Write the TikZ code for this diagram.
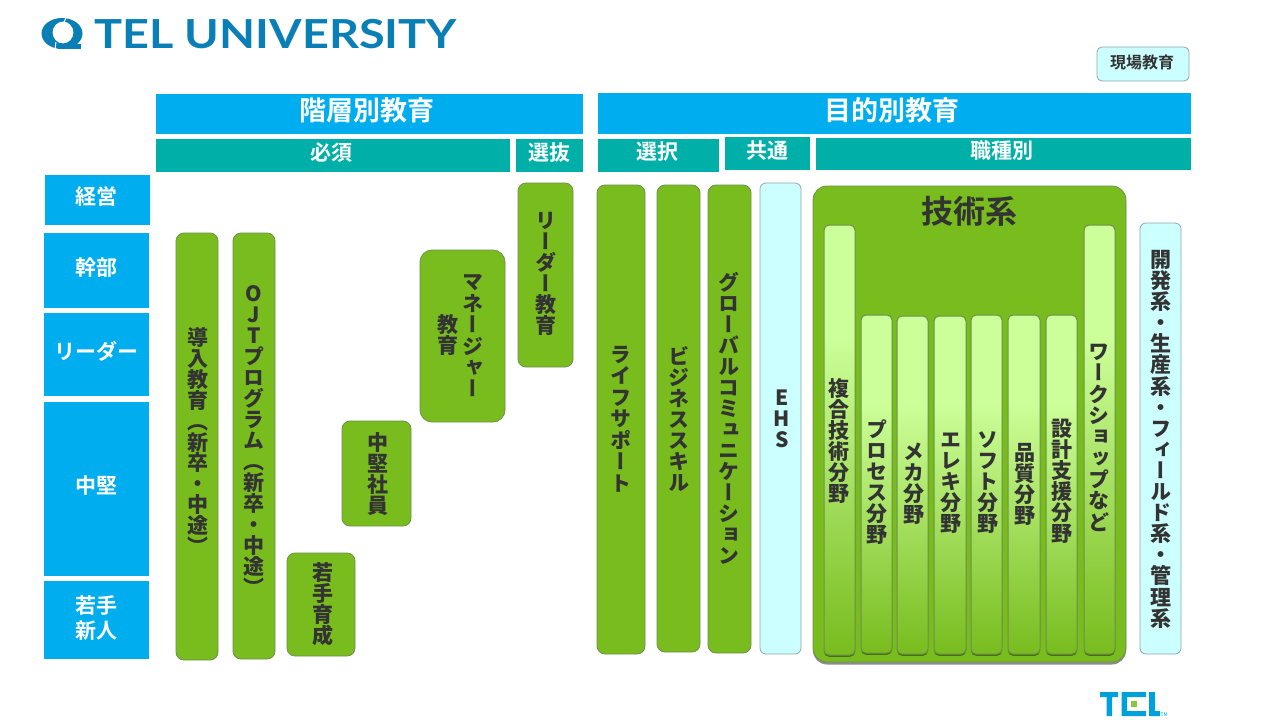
\documentclass[tikz,border=0pt]{standalone}
\usepackage{fontspec}
\setmainfont{Noto Sans CJK JP}[BoldFont={Noto Sans CJK JP Bold}]
\newfontfamily\vjp{Noto Sans CJK JP Bold}[RawFeature={+vert}]
\newfontfamily\logofont{Lato}
\usetikzlibrary{shadows}
\definecolor{cyanhead}{HTML}{00AEEF}
\definecolor{tealhead}{HTML}{00B0A8}
\definecolor{barg}{HTML}{78BC1E}
\definecolor{barline}{HTML}{6E8F50}
\definecolor{lightc}{HTML}{CCFFFF}
\definecolor{lightcline}{HTML}{8FA6AE}
\definecolor{lightg}{HTML}{CCFF99}
\definecolor{ink}{HTML}{333333}
\definecolor{logob}{HTML}{0A7FB5}
\definecolor{telb}{HTML}{00A0DC}
\definecolor{telg}{HTML}{8CC63F}
\pgfdeclareverticalshading{barshade}{100bp}{color(0bp)=(barg); color(25bp)=(barg); color(62bp)=(lightg); color(100bp)=(lightg)}
\makeatletter
\newcommand\vcol[2]{\vbox{\baselineskip=#1pt\lineskiplimit=-100pt\lineskip=0pt\vjp\bfseries\@tfor\vc:=#2\do{\hbox to 1.1em{\hss\vc\hss}}}}
\makeatother
\tikzset{
 head/.style={text=white,font=\bfseries\fontsize{27}{27}\selectfont,inner sep=0},
 sub/.style={text=white,font=\bfseries\fontsize{21}{21}\selectfont,inner sep=0},
 side/.style={text=white,font=\bfseries\fontsize{21}{25}\selectfont,inner sep=0,align=center},
 bar/.style={fill=barg,draw=barline,line width=.8pt,rounded corners=8pt},
 cbar/.style={fill=lightc,draw=lightcline,line width=.8pt,rounded corners=6pt},
 ibar/.style={shading=barshade,draw=barline,line width=1pt,rounded corners=5pt},
 bartext/.style={text=ink,inner sep=0,font=\fontsize{21}{21}\selectfont},
}
\begin{document}
\begin{tikzpicture}[x=1pt,y=-1pt]
\useasboundingbox (0,0) rectangle (1280,720);
% logo
\fill[logob,even odd rule] (62,33.5) ellipse (20.5 and 15.5) (63,32.5) ellipse (10.5 and 11);
\fill[logob] (58,44) rectangle (81,48.5);
\draw[white,line width=1pt] (66,18) -- (60,30);
\draw[white,line width=1pt] (56,42) -- (55,49);
\node[anchor=west,inner sep=0,text=logob,font=\logofont\bfseries\fontsize{40}{40}\selectfont,xscale=1.17,transform shape] (unilogo) at (94,34.5) {TEL UNIVERSITY};
% top tag
\path[cbar,rounded corners=5pt] (1097,47) rectangle (1189,81);
\node[text=ink,font=\bfseries\fontsize{16}{16}\selectfont] (genba) at (1142,62.5) {現場教育};
% headers
\path[fill=cyanhead] (156,94) rectangle (583,134);
\node[head] (h1) at (367,110) {階層別教育};
\path[fill=cyanhead] (598,93) rectangle (1191,134);
\node[head] (h2) at (892,110) {目的別教育};
\foreach \a/\b/\c/\d/\t/\tx/\ty in {156/139/510/172/必須/331/153,516/139/583/172/選抜/549/153,598/139/719/172/選択/657/152,725/137/810/170/共通/767/151,816/138/1191/170/職種別/1002/151}{
 \path[fill=tealhead] (\a,\b) rectangle (\c,\d);
 \node[sub] at (\tx,\ty) {\t};
}
% side labels
\foreach \a/\b/\c/\d/\t/\ty in {45/175/150/225/経営/197,44/233/149/308/幹部/268,44/313/149/396/リーダー/351,44/402/149/576/中堅/486}{
 \path[fill=cyanhead] (\a,\b) rectangle (\c,\d);
 \node[side] at (96.5,\ty) {\t};
}
\path[fill=cyanhead] (44,581) rectangle (149,659);
\node[side] (wakate) at (96,618) {若手\\新人};
% left bars
\path[bar] (176,233) rectangle (218,660);
\node[bartext] (t1) at (197.5,441) {\vcol{20.9}{導入教育（新卒・中途）}};
\path[bar] (233,233) rectangle (275,659);
\node[bartext] (t2) at (254,441) {\vcol{21}{OJTプログラム（新卒・中途）}};
\path[bar] (287,553) rectangle (355,656);
\node[bartext] (t3) at (323,604) {\vcol{21}{若手育成}};
\path[bar] (342,421) rectangle (411,526);
\node[bartext] (t4) at (378,474) {\vcol{21}{中堅社員}};
\path[bar,rounded corners=12pt] (420,250) rectangle (505,422);
\node[bartext] (t5a) at (473,336) {\vcol{21.4}{マネージャー}};
\node[bartext] (t5b) at (448,335) {\vcol{20.5}{教育}};
\path[bar] (518,183) rectangle (573,367);
\node[bartext] (t6) at (546,274) {\vcol{21}{リーダー教育}};
% right bars
\path[bar] (597,185) rectangle (645,654);
\node[bartext] (t7) at (621,419) {\vcol{21.5}{ライフサポート}};
\path[bar] (657,185) rectangle (700,652);
\node[bartext] (t8) at (679,419) {\vcol{21}{ビジネススキル}};
\path[bar] (708,185) rectangle (751,653);
\node[bartext] (t9) at (729,418) {\vcol{21}{グローバルコミュニケーション}};
\path[cbar] (760,183) rectangle (801,654);
\node[bartext] (t10) at (782,419) {\vcol{21.3}{EHS}};
% tech box
\path[bar,rounded corners=14pt,drop shadow={shadow xshift=0pt,shadow yshift=-2.5pt,opacity=.45,fill=black}] (813,186) rectangle (1126,662);
\node[text=ink,font=\bfseries\fontsize{32}{32}\selectfont] (tech) at (969,211) {技術系};
\foreach \a/\b/\c/\d in {824/225/855/655,861/315/892/653,897/316/928/654,934/316/966/654,971/315/1002/654,1008/315/1040/654,1046/315/1077/654,1084/225/1115/654}{
 \path[ibar,drop shadow={shadow xshift=0pt,shadow yshift=-1.8pt,opacity=.4,fill=black}] (\a,\b) rectangle (\c,\d);
}
\node[bartext,anchor=north] (i1) at (839,378) {\vcol{21}{複合技術分野}};
\node[bartext,anchor=north] (i2) at (877,420) {\vcol{21}{プロセス分野}};
\node[bartext,anchor=north] (i3) at (914,443) {\vcol{21}{メカ分野}};
\node[bartext,anchor=north] (i4) at (951,433) {\vcol{21}{エレキ分野}};
\node[bartext,anchor=north] (i5) at (988,431) {\vcol{21}{ソフト分野}};
\node[bartext,anchor=north] (i6) at (1025,443) {\vcol{21}{品質分野}};
\node[bartext,anchor=north] (i7) at (1062,419) {\vcol{21}{設計支援分野}};
\node[bartext,anchor=north] (i8) at (1099,344) {\vcol{21.3}{ワークショップなど}};
\path[cbar] (1140,223) rectangle (1181,654);
\node[bartext,anchor=north] (t11) at (1161,250) {\vcol{21.1}{開発系・生産系・フィールド系・管理系}};
% TEL logo
\fill[telb] (1100,692) rectangle (1118,697) (1106.5,692) rectangle (1112,716);
\fill[telb] (1121.5,692) rectangle (1146,697) (1121.5,692) rectangle (1127,716) (1121.5,711) rectangle (1146,716);
\fill[telg] (1131,701) rectangle (1137,707);
\fill[telb] (1149,692) rectangle (1155,716) (1149,711) rectangle (1160,716);
\node[inner sep=0,text=telb,font=\fontsize{5}{5}\selectfont,anchor=south west] (tm) at (1160.5,716.5) {TM};
\end{tikzpicture}
\end{document}
